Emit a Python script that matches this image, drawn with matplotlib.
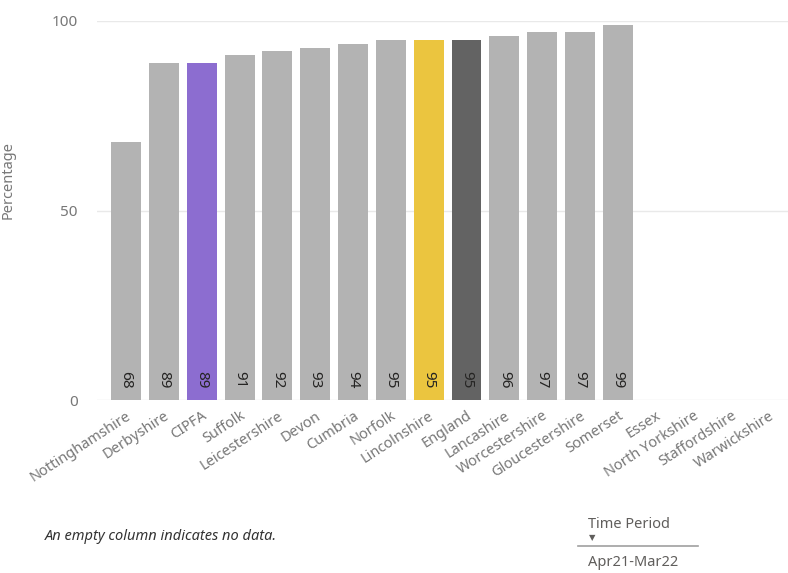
import matplotlib
matplotlib.use("Agg")
import matplotlib.pyplot as plt
import numpy as np

plt.rcParams["font.family"] = ["Noto Sans", "DejaVu Sans"]

areas = [
    "Nottinghamshire", "Derbyshire", "CIPFA", "Suffolk", "Leicestershire",
    "Devon", "Cumbria", "Norfolk", "Lincolnshire", "England", "Lancashire",
    "Worcestershire", "Gloucestershire", "Somerset", "Essex",
    "North Yorkshire", "Staffordshire", "Warwickshire",
]
# None marks an area with no data (empty column)
values = [68, 89, 89, 91, 92, 93, 94, 95, 95, 95, 96, 97, 97, 99,
          None, None, None, None]
y_ticks = [0, 50, 100]

GREY = "#b3b3b3"
highlight = {"CIPFA": "#8c6dd0", "Lincolnshire": "#ebc53f", "England": "#636363"}

fig = plt.figure(figsize=(7.88, 5.73), dpi=100)
ax = fig.add_axes([97 / 788, 173 / 573, 691 / 788, 379 / 573])

x = np.arange(len(areas))
for i, (name, val) in enumerate(zip(areas, values)):
    if val is None:
        continue
    ax.bar(i, val, width=0.79, color=highlight.get(name, GREY), zorder=2)
    ax.text(i, 5.3, f"{val:.0f}", rotation=270, ha="center", va="center",
            fontsize=11, color="#252423", zorder=3)

ax.set_xlim(-0.77, 17.5)
ax.set_ylim(0, 100)
ax.set_yticks(y_ticks)
ax.set_yticklabels([str(t) for t in y_ticks], fontsize=11, color="#777777")
ax.set_xticks(x)
ax.set_xticklabels(areas, rotation=33, ha="right", rotation_mode="anchor",
                   fontsize=10.5, color="#777777")
ax.tick_params(axis="x", length=0, pad=6)
ax.tick_params(axis="y", length=0, pad=14)
ax.grid(axis="y", color="#e9e9e9", linewidth=1, zorder=0)
for side in ax.spines.values():
    side.set_visible(False)

fig.text(1 / 788, 1 - 180 / 573, "Percentage", rotation=90, ha="left",
         va="center", fontsize=10.5, color="#777777")

fig.text(45 / 788, 1 - 537 / 573, "An empty column indicates no data.",
         fontsize=10.5, style="italic", color="#333333", va="center")

fig.text(588 / 788, 1 - 524 / 573, "Time Period", fontsize=10.5,
         color="#605e5c", va="center")
fig.text(589 / 788, 1 - 538 / 573, "\u25BC", fontsize=6, color="#605e5c",
         va="center")
fig.add_artist(plt.Line2D([578 / 788, 698 / 788], [1 - 546 / 573, 1 - 546 / 573],
                          color="#a0a0a0", linewidth=1.2))
fig.text(588 / 788, 1 - 562 / 573, "Apr21-Mar22", fontsize=10.5,
         color="#605e5c", va="center")

fig.savefig("out.png", dpi=100)
